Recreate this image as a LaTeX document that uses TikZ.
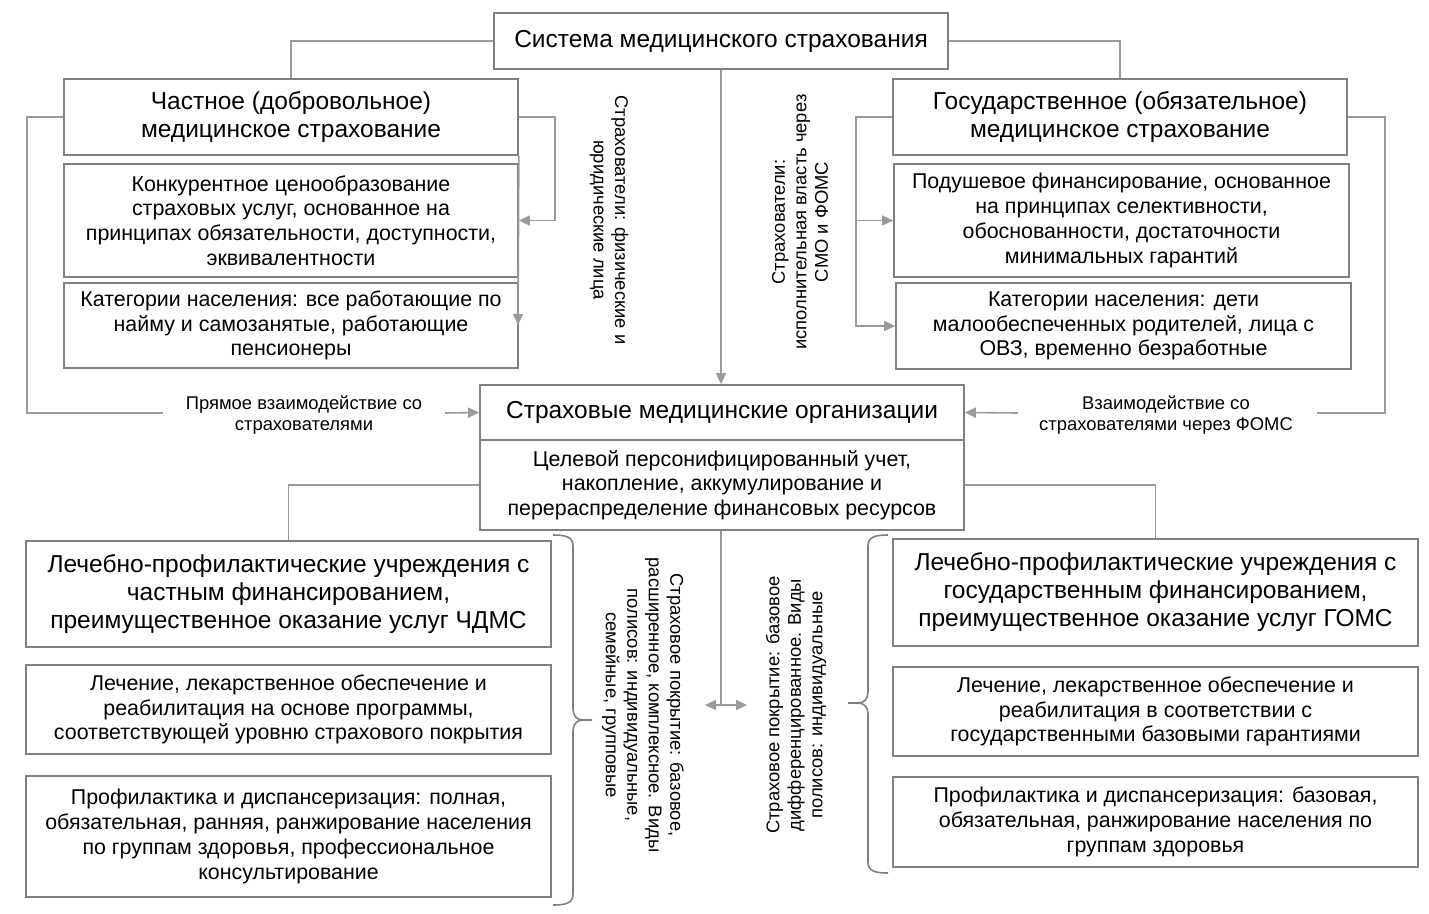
\documentclass[tikz,border=0pt]{standalone}
\usepackage{fontspec}
\setmainfont{Liberation Sans}
\usetikzlibrary{arrows.meta}
\definecolor{boxgray}{HTML}{808080}
\definecolor{linegray}{HTML}{9A9A9A}
\begin{document}
\begin{tikzpicture}[x=1pt,y=-1pt,
  box/.style={draw=boxgray,line width=1.7pt,inner sep=0pt,align=center,text=black},
  big/.style={font=\fontsize{24.5pt}{28pt}\selectfont},
  mid/.style={font=\fontsize{21.4pt}{24.7pt}\selectfont},
  sml/.style={font=\fontsize{18.4pt}{21.5pt}\selectfont},
  conn/.style={draw=linegray,line width=1.6pt},
  arr/.style={conn,-{Triangle[length=11pt,width=10pt]}},
  darr/.style={conn,{Triangle[length=11pt,width=10pt]}-{Triangle[length=11pt,width=10pt]}},
  vlab/.style={sml,align=center,inner sep=0pt}
]
\fill[white] (0,0) rectangle (1429,913);
\useasboundingbox (0,0) rectangle (1429,913);

% top
\node[box,big,minimum width=454pt,minimum height=56pt] (top) at (721,41) {Система медицинского страхования};

% private
\node[box,big,minimum width=454pt,minimum height=76pt] (priv1) at (291,117) {Частное (добровольное)\\медицинское страхование};
\node[box,mid,minimum width=454pt,minimum height=113pt] (priv2) at (291,220.5) {Конкурентное ценообразование\\страховых услуг, основанное на\\принципах обязательности, доступности,\\эквивалентности};
\node[box,mid,minimum width=454pt,minimum height=85pt] (priv3) at (291,325.5) {Категории населения: все работающие по\\найму и самозанятые, работающие\\пенсионеры};

% state
\node[box,big,minimum width=454pt,minimum height=76pt] (gov1) at (1120,117) {Государственное (обязательное)\\медицинское страхование};
\node[box,mid,minimum width=455pt,minimum height=113pt] (gov2) at (1121.5,220.5) {Подушевое финансирование, основанное\\на принципах селективности,\\обоснованности, достаточности\\минимальных гарантий};
\node[box,mid,minimum width=455pt,minimum height=86pt] (gov3) at (1123.5,326) {Категории населения: дети\\малообеспеченных родителей, лица с\\ОВЗ, временно безработные};

% SMO
\node[box,big,minimum width=484pt,minimum height=55pt] (smo1) at (722,412.5) {Страховые медицинские организации};
\node[box,mid,minimum width=484pt,minimum height=90pt] (smo2) at (722,485) {Целевой персонифицированный учет,\\накопление, аккумулирование и\\перераспределение финансовых ресурсов};

% bottom left
\node[box,big,minimum width=525pt,minimum height=106pt] (lpuL1) at (288.5,594) {Лечебно-профилактические учреждения с\\частным финансированием,\\преимущественное оказание услуг ЧДМС};
\node[box,mid,minimum width=525pt,minimum height=89pt] (lpuL2) at (288.5,709.5) {Лечение, лекарственное обеспечение и\\реабилитация на основе программы,\\соответствующей уровню страхового покрытия};
\node[box,mid,minimum width=525pt,minimum height=121pt] (lpuL3) at (288.5,836.5) {Профилактика и диспансеризация: полная,\\обязательная, ранняя, ранжирование населения\\по группам здоровья, профессиональное\\консультирование};

% bottom right
\node[box,big,minimum width=525pt,minimum height=107pt] (lpuR1) at (1155.5,592.5) {Лечебно-профилактические учреждения с\\государственным финансированием,\\преимущественное оказание услуг ГОМС};
\node[box,mid,minimum width=525pt,minimum height=89pt] (lpuR2) at (1155.5,711.5) {Лечение, лекарственное обеспечение и\\реабилитация в соответствии с\\государственными базовыми гарантиями};
\node[box,mid,minimum width=525pt,minimum height=90pt] (lpuR3) at (1155.5,822) {Профилактика и диспансеризация: базовая,\\обязательная, ранжирование населения по\\группам здоровья};

% vertical labels
\node[vlab,rotate=-90] (vl1) at (609,220) {Страхователи: физические и\\юридические лица};
\node[vlab,rotate=90] (vl2) at (800,222) {Страхователи:\\исполнительная власть через\\СМО и ФОМС};
\node[vlab,rotate=-90] (vl3) at (643,705) {Страховое покрытие: базовое,\\расширенное, комплексное. Виды\\полисов: индивидуальные,\\семейные, групповые};
\node[vlab,rotate=90] (vl4) at (796,705) {Страховое покрытие: базовое\\дифференцированное. Виды\\полисов: индивидуальные};

% side labels
\node[sml,align=center,inner sep=0pt] (lblL) at (304,415) {Прямое взаимодействие со\\страхователями};
\node[sml,align=center,inner sep=0pt] (lblR) at (1166,415) {Взаимодействие со\\страхователями через ФОМС};

% coordinates for free ends
\coordinate (lL1) at (163,413);
\coordinate (lL2) at (445,413);
\coordinate (lR1) at (1317,413);
\coordinate (lR2) at (1018,413);
\coordinate (pEnd) at (518,325);
\coordinate (mid) at (721,705);
\coordinate (dA) at (705,705);
\coordinate (dB) at (747,705);

% connectors top
\draw[conn] (top.west) -| (priv1.north);
\draw[conn] (top.east) -| (gov1.north);
\draw[arr] (top.south) -- (top.south |- smo1.north);

% private side
\draw[arr] (priv1.east) -- ++(36,0) |- (priv2.east);
\draw[arr] (priv1.south east) -- (pEnd);
\draw[conn] (priv1.west) -- ++(-36,0) |- (lL1);
\draw[arr] (lL2) -- (smo1.west);

% state side
\draw[arr] (gov1.west) -- ++(-36,0) |- (gov3.west);
\draw[arr] (gov1.west) ++(-36,0) |- (gov2.west);
\draw[conn] (gov1.east) -- ++(37,0) |- (lR1);
\draw[arr] (lR2) -- (smo1.east);

% SMO to bottom
\draw[conn] (smo2.west) -| (lpuL1.north);
\draw[conn] (smo2.east) -| (lpuR1.north);
\draw[conn] (smo2.south -| top.south) -- (mid);
\draw[darr] (dA) -- (dB);

% braces
\draw[conn,draw=boxgray] (553,535) .. controls (566,535) and (573,537) .. (573,546) -- (573,709)
  .. controls (573,716) and (577,720) .. (583,720) -- (592,720) -- (583,720)
  .. controls (577,720) and (573,724) .. (573,731) -- (573,894)
  .. controls (573,903) and (566,905) .. (553,905);
\draw[conn,draw=boxgray] (888,535) .. controls (875,535) and (868,537) .. (868,546) -- (868,692)
  .. controls (868,699) and (864,703) .. (858,703) -- (848,703) -- (858,703)
  .. controls (864,703) and (868,707) .. (868,714) -- (868,862)
  .. controls (868,871) and (875,873) .. (888,873);
\end{tikzpicture}
\end{document}
